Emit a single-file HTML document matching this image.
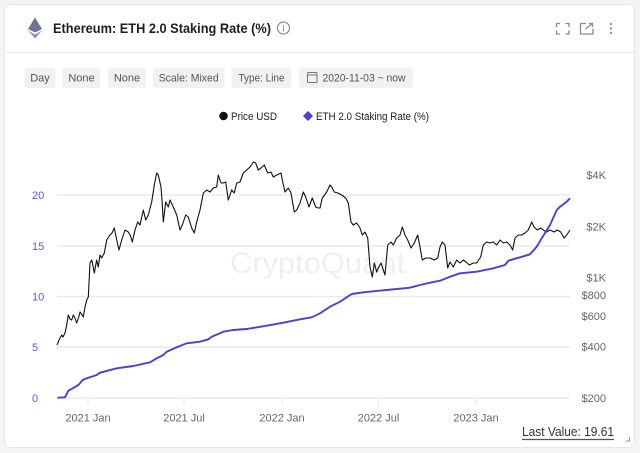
<!DOCTYPE html>
<html><head><meta charset="utf-8"><style>
html,body{margin:0;padding:0;background:#f4f4f5;}
svg{display:block;font-family:"Liberation Sans",Arial,sans-serif;}
</style></head><body>
<svg width="640" height="453" viewBox="0 0 640 453" xmlns="http://www.w3.org/2000/svg">
<rect x="0" y="0" width="640" height="453" fill="#f4f4f5"/>
<rect x="4.5" y="4.5" width="630" height="443" rx="6" fill="#ffffff" stroke="#e6e6e8"/>
<line x1="5" y1="52.5" x2="634" y2="52.5" stroke="#ebebed" stroke-width="1.2"/>
<!-- eth logo -->
<polygon points="35,17.5 28,29 35,32.5 42,29" fill="#6f7399"/>
<polygon points="28,30.5 35,38.5 42,30.5 35,34.5" fill="#8c8fb5"/>
<text x="53" y="33" font-size="14" font-weight="bold" fill="#1f1f1f" textLength="218" lengthAdjust="spacingAndGlyphs">Ethereum: ETH 2.0 Staking Rate (%)</text>
<circle cx="283.5" cy="28" r="6" fill="none" stroke="#777" stroke-width="1"/>
<text x="283.5" y="31.5" font-size="9" fill="#777" text-anchor="middle">i</text>
<!-- header icons -->
<g stroke="#8a8a8a" stroke-width="1.3" fill="none">
<path d="M556.5,27 V23.5 H560"/><path d="M565.5,23.5 H569 V27"/><path d="M556.5,30.5 V34 H560"/><path d="M565.5,34 H569 V30.5"/>
<path d="M586,23.5 H580.5 V34 H593 V28.5"/><path d="M585.5,29 L592.5,23.5 M589,23.5 H592.5 V27"/>
</g>
<circle cx="611" cy="24" r="1.1" fill="#8a8a8a"/><circle cx="611" cy="28.5" r="1.1" fill="#8a8a8a"/><circle cx="611" cy="33" r="1.1" fill="#8a8a8a"/>
<!-- chips -->
<g fill="#f1f1f3">
<rect x="24.5" y="68" width="31" height="20" rx="3"/>
<rect x="62.5" y="68" width="38" height="20" rx="3"/>
<rect x="108" y="68" width="38" height="20" rx="3"/>
<rect x="153" y="68" width="71.5" height="20" rx="3"/>
<rect x="231.5" y="68" width="60" height="20" rx="3"/>
<rect x="299" y="68" width="114" height="20" rx="3"/>
</g>
<g font-size="11" fill="#555" text-anchor="middle">
<text x="40" y="81.5">Day</text>
<text x="81.5" y="81.5">None</text>
<text x="127" y="81.5">None</text>
<text x="188.7" y="81.5" textLength="60" lengthAdjust="spacingAndGlyphs">Scale: Mixed</text>
<text x="261.5" y="81.5" textLength="46" lengthAdjust="spacingAndGlyphs">Type: Line</text>
</g>
<rect x="307.5" y="72.5" width="9.5" height="10" rx="1" fill="none" stroke="#777" stroke-width="1"/>
<line x1="307.5" y1="75" x2="317" y2="75" stroke="#777" stroke-width="1"/>
<text x="322.5" y="81.5" font-size="11" fill="#555" textLength="83" lengthAdjust="spacingAndGlyphs">2020-11-03 ~ now</text>
<!-- legend -->
<circle cx="223.5" cy="116" r="4.3" fill="#111"/>
<text x="231" y="120" font-size="11" fill="#222" textLength="46" lengthAdjust="spacingAndGlyphs">Price USD</text>
<polygon points="308,111 313,116 308,121 303,116" fill="#4b3fd6"/>
<text x="316" y="120" font-size="11" fill="#222" textLength="113" lengthAdjust="spacingAndGlyphs">ETH 2.0 Staking Rate (%)</text>
<!-- grid -->
<g stroke="#e8e8ea" stroke-width="1.2">
<line x1="57" y1="195" x2="570" y2="195"/>
<line x1="57" y1="246" x2="570" y2="246"/>
<line x1="57" y1="296.5" x2="570" y2="296.5"/>
<line x1="57" y1="347" x2="570" y2="347"/>
<line x1="57" y1="398" x2="570" y2="398"/>
<line x1="88" y1="398" x2="88" y2="405"/>
<line x1="184" y1="398" x2="184" y2="405"/>
<line x1="282" y1="398" x2="282" y2="405"/>
<line x1="378.5" y1="398" x2="378.5" y2="405"/>
<line x1="476" y1="398" x2="476" y2="405"/>
</g>
<text x="230" y="273" font-size="30" fill="#efeff0" textLength="175" lengthAdjust="spacingAndGlyphs">CryptoQuant</text>
<!-- left axis -->
<g font-size="11" fill="#6259d8">
<text x="32" y="199">20</text>
<text x="32" y="250">15</text>
<text x="32" y="300.5">10</text>
<text x="32" y="351">5</text>
<text x="32" y="402">0</text>
</g>
<!-- right axis -->
<g font-size="11" fill="#666" text-anchor="end">
<text x="606" y="179">$4K</text>
<text x="606" y="230.5">$2K</text>
<text x="606" y="281.5">$1K</text>
<text x="606" y="299">$800</text>
<text x="606" y="320">$600</text>
<text x="606" y="350.5">$400</text>
<text x="606" y="402">$200</text>
</g>
<!-- x axis -->
<g font-size="11" fill="#666" text-anchor="middle">
<text x="88" y="421.5">2021 Jan</text>
<text x="184" y="421.5">2021 Jul</text>
<text x="282" y="421.5">2022 Jan</text>
<text x="378.5" y="421.5">2022 Jul</text>
<text x="476" y="421.5">2023 Jan</text>
</g>
<!-- price -->
<polyline fill="none" stroke="#111" stroke-width="1.1" stroke-linejoin="round" points="57,345 59,340 61.7,335 63,337 65,333 66.5,326 68.3,315 70,319 71.7,320 73.3,315 75,318 76.7,323 78.5,318 80,312 81.5,314 83.3,317 85,307 86.7,300 88.3,297 90,263 91.7,260 93,266 94.3,273 96.7,260 98.3,267 100,255 101.7,258 104.3,253 106.7,240 110,235 112,233 114.3,228 116.7,240 119,250 121.7,240 125,230 128.3,232 130.5,236 132.3,242 135,230 137.7,222 140,225 143.3,210 145.7,220 148.3,215 151.7,202 154.3,185 156.7,173 158.3,175 161,187 162,200 163.3,222 165.7,202 168.3,207 170,200 173.3,207 176.7,215 180,230 182.3,225 185.7,215 188.3,217 191.7,228 194.3,233 196.7,222 200,210 203.3,193 206.7,190 210,192 213.3,188 216.7,187 218.3,175 221,183 223.3,183 225.7,182 228.3,200 231.7,190 234.3,193 236.7,183 240,182 243.3,173 246.7,170 250,167 253.3,162 255.7,163 258.3,170 261,168 264.3,165 267.7,173 271,172 273.3,177 276.7,175 281,173 282.3,180 285,192 288.3,188 291,193 294.3,212 296.7,210 300,203 303.3,192 305.7,197 309,207 312.3,198 315.7,207 318.3,208 320,208 322.3,198 326.7,192 330,185 331.7,187 334.3,192 337.7,193 341.7,195 345.7,198 348.3,203 351,222 353.3,225 356.7,223 360,228 362.3,235 365,232 367.7,238 370,267 372.3,277 374.3,263 376.7,272 378.3,268 381,263 383.3,270 385,275 387.7,245 391,242 393.3,245 396.7,238 400,235 402.3,227 405,235 407.7,240 411,248 414.3,243 417.7,235 420,247 422.3,260 425.7,258 430,258 434.3,260 437.7,258 440,247 442.3,242 445,245 447.7,268 450,262 453.3,267 456.7,260 460,263 463.3,260 466,262 469.3,265 473.3,263 476.7,263 480.7,257 483.3,245 486.7,242 490,243 493.3,242 496.7,245 500,240 503.3,243 506.7,242 510,245 512.7,250 515,238 518.3,235 521.7,235 525,233 528.3,230 531.7,222 534,227 537.3,230 540.7,228 543.3,230 546.7,232 550,230 554,232 557.3,230 560.7,232 564,238 566.7,235 570,230"/>
<!-- staking rate -->
<polyline fill="none" stroke="#4b3fd6" stroke-width="1.9" stroke-linejoin="round" points="57.3,397.7 65,397.3 68.3,390.7 73.3,388 78.3,385 82.7,380 86.7,378.3 96.7,375 100,372.7 116.7,368.3 133.3,366 150,362.3 156.7,358.3 163.3,355 166.7,351.7 176.7,347.3 186.7,343.3 200,341.7 208.3,339.3 211.7,336.7 223.3,331.7 233.3,330 246.7,329 266.7,325.7 283.3,322.7 300,319.3 311.7,317.3 315,315.7 320,313.3 330,306.7 340,301.7 351.7,294 363.3,292.3 386.7,290 410,287.7 420,285 430,282.7 440,280.7 450,276.7 460,273.3 476.7,271.7 493.3,268.3 505,265 508.3,260.7 520,257.3 530,254.3 536.7,246.7 541.7,238.3 550,225 556.7,210 560,206.7 566.7,201.7 570,198.3"/>
<!-- last value -->
<text x="522" y="436" font-size="13" fill="#333" textLength="92" lengthAdjust="spacingAndGlyphs">Last Value: 19.61</text>
<line x1="522" y1="439.5" x2="614" y2="439.5" stroke="#555" stroke-width="1.2"/>
<path d="M625.5,441 H629.5 V437" fill="none" stroke="#999" stroke-width="1"/>
</svg>
</body></html>
